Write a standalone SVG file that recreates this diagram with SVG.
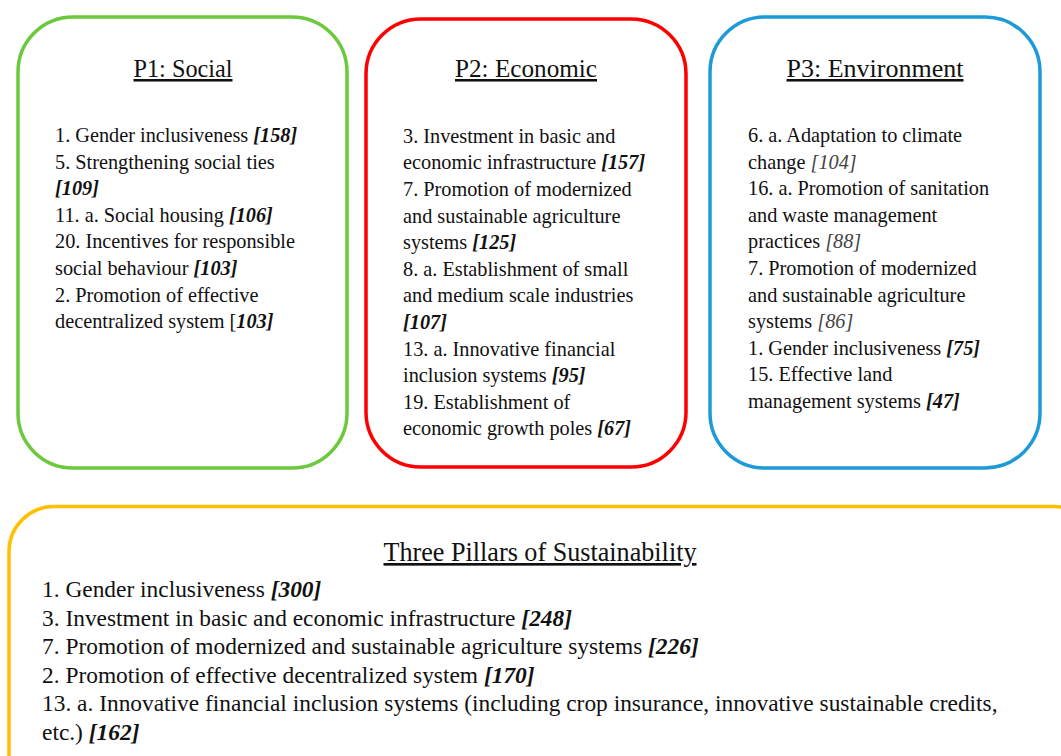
<svg xmlns="http://www.w3.org/2000/svg" width="1061" height="756" viewBox="0 0 1061 756">
<style>
.box{fill:#fff;stroke-width:3.5}
.t{font-family:"Liberation Serif","Times New Roman",serif;fill:#111}
.title{font-size:25.5px;text-decoration:underline;text-anchor:middle}
.body{font-size:20.3px}
.big{font-size:23.4px}
.bt{font-size:26.5px;text-decoration:underline;text-anchor:middle}
.b{font-weight:bold;font-style:italic}
.i{font-style:italic;fill:#444}
</style>
<rect width="1061" height="756" fill="#fff"/>
<g id="p1">
<rect class="box" x="18" y="17" width="329" height="451" rx="55" stroke="#6CC93E"/>
<text class="t title" x="183" y="77" textLength="99" lengthAdjust="spacingAndGlyphs">P1: Social</text>
<text class="t body" x="55" y="142">1. Gender inclusiveness <tspan class="b">[158]</tspan></text>
<text class="t body" x="55" y="168.6">5. Strengthening social ties</text>
<text class="t body b" x="55" y="195.2">[109]</text>
<text class="t body" x="55" y="221.8">11. a. Social housing <tspan class="b">[106]</tspan></text>
<text class="t body" x="55" y="248.4">20. Incentives for responsible</text>
<text class="t body" x="55" y="275">social behaviour <tspan class="b">[103]</tspan></text>
<text class="t body" x="55" y="301.6">2. Promotion of effective</text>
<text class="t body" x="55" y="328.2">decentralized system [<tspan class="b">103]</tspan></text>
</g>
<g id="p2">
<rect class="box" x="366" y="19" width="320" height="448" rx="55" stroke="#FF0000" stroke-width="4"/>
<text class="t title" x="526" y="77" textLength="142" lengthAdjust="spacingAndGlyphs">P2: Economic</text>
<text class="t body" x="403" y="142.7">3. Investment in basic and</text>
<text class="t body" x="403" y="169.3">economic infrastructure <tspan class="b">[157]</tspan></text>
<text class="t body" x="403" y="195.9">7. Promotion of modernized</text>
<text class="t body" x="403" y="222.5">and sustainable agriculture</text>
<text class="t body" x="403" y="249.1">systems <tspan class="b">[125]</tspan></text>
<text class="t body" x="403" y="275.7">8. a. Establishment of small</text>
<text class="t body" x="403" y="302.3">and medium scale industries</text>
<text class="t body b" x="403" y="328.9">[107]</text>
<text class="t body" x="403" y="355.5">13. a. Innovative financial</text>
<text class="t body" x="403" y="382.1">inclusion systems <tspan class="b">[95]</tspan></text>
<text class="t body" x="403" y="408.7">19. Establishment of</text>
<text class="t body" x="403" y="435.3">economic growth poles <tspan class="b">[67]</tspan></text>
</g>
<g id="p3">
<rect class="box" x="710" y="17" width="330" height="451" rx="55" stroke="#1E9AD6"/>
<text class="t title" x="875" y="77" textLength="177" lengthAdjust="spacingAndGlyphs">P3: Environment</text>
<text class="t body" x="748" y="142">6. a. Adaptation to climate</text>
<text class="t body" x="748" y="168.6">change <tspan class="i">[104]</tspan></text>
<text class="t body" x="748" y="195.2">16. a. Promotion of sanitation</text>
<text class="t body" x="748" y="221.8">and waste management</text>
<text class="t body" x="748" y="248.4">practices <tspan class="i">[88]</tspan></text>
<text class="t body" x="748" y="275">7. Promotion of modernized</text>
<text class="t body" x="748" y="301.6">and sustainable agriculture</text>
<text class="t body" x="748" y="328.2">systems <tspan class="i">[86]</tspan></text>
<text class="t body" x="748" y="354.8">1. Gender inclusiveness <tspan class="b">[75]</tspan></text>
<text class="t body" x="748" y="381.4">15. Effective land</text>
<text class="t body" x="748" y="408">management systems <tspan class="b">[47]</tspan></text>
</g>
<g id="summary">
<rect class="box" x="9" y="506.5" width="1090" height="320" rx="45" stroke="#FFC000" stroke-width="5"/>
<text class="t bt" x="540" y="561" textLength="313" lengthAdjust="spacingAndGlyphs">Three Pillars of Sustainability</text>
<text class="t big" x="42" y="597">1. Gender inclusiveness <tspan class="b">[300]</tspan></text>
<text class="t big" x="42" y="625.6">3. Investment in basic and economic infrastructure <tspan class="b">[248]</tspan></text>
<text class="t big" x="42" y="654.2">7. Promotion of modernized and sustainable agriculture systems <tspan class="b">[226]</tspan></text>
<text class="t big" x="42" y="682.8">2. Promotion of effective decentralized system <tspan class="b">[170]</tspan></text>
<text class="t big" x="42" y="711.4">13. a. Innovative financial inclusion systems (including crop insurance, innovative sustainable credits,</text>
<text class="t big" x="42" y="740">etc.) <tspan class="b">[162]</tspan></text>
</g>
</svg>
